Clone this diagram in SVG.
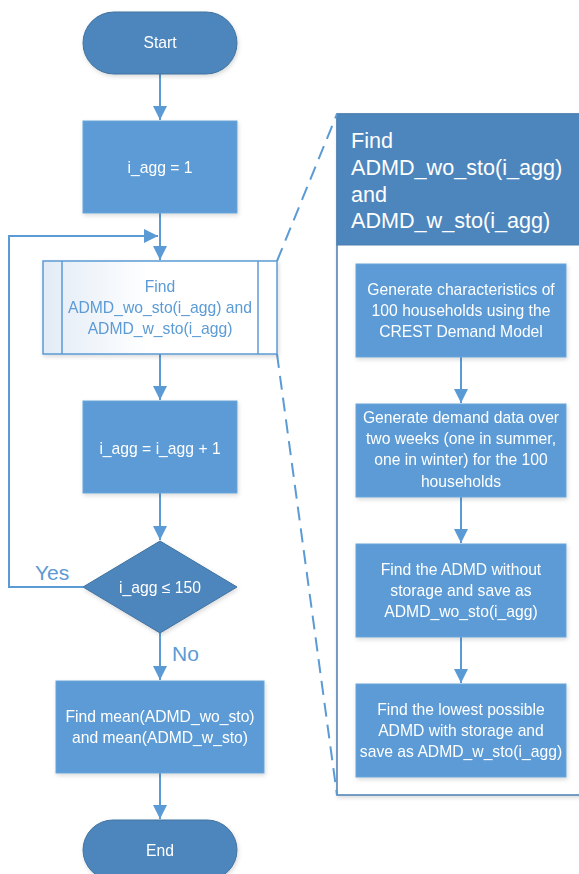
<svg xmlns="http://www.w3.org/2000/svg" width="579" height="874" viewBox="0 0 579 874">
<defs>
<style>
.t{font-family:"Liberation Sans",Arial,sans-serif;font-size:15.7px;fill:#ffffff;text-anchor:middle}
.tb{font-family:"Liberation Sans",Arial,sans-serif;font-size:15.7px;fill:#5b9bd5;text-anchor:middle}
.lbl{font-family:"Liberation Sans",Arial,sans-serif;font-size:21px;fill:#5b9bd5}
.hd{font-family:"Liberation Sans",Arial,sans-serif;font-size:21.6px;fill:#ffffff}
.box{fill:#5b9bd5;stroke:#6aa5da;stroke-width:1}
.dark{fill:#4d86bd;stroke:#41729f;stroke-width:1}
.con{fill:none;stroke:#5b9bd5;stroke-width:2}
.dash{fill:none;stroke:#5b9bd5;stroke-width:2;stroke-dasharray:14 8}
</style>
<marker id="ah" viewBox="0 0 14 14" refX="14" refY="7" markerWidth="14" markerHeight="14" markerUnits="userSpaceOnUse" orient="auto">
<path d="M0,0 L14,7 L0,14 Z" fill="#5b9bd5"/>
</marker>
<linearGradient id="sg" x1="0" y1="0" x2="1" y2="0">
<stop offset="0" stop-color="#e2ebf6"/>
<stop offset="0.45" stop-color="#ffffff"/>
<stop offset="1" stop-color="#ffffff"/>
</linearGradient>
<filter id="sh" x="-10%" y="-10%" width="130%" height="130%">
<feDropShadow dx="1" dy="2" stdDeviation="2" flood-color="#000" flood-opacity="0.15"/>
</filter>
</defs>
<rect width="579" height="874" fill="#ffffff"/>

<g id="detail-panel">
<rect x="337" y="114" width="262" height="681" fill="#ffffff" stroke="#4a7eb0" stroke-width="1.5" filter="url(#sh)"/>
<rect x="337" y="114" width="262" height="131" fill="#4d86bd" stroke="#4a7eb0" stroke-width="1"/>
<text class="hd" x="351" y="148">Find</text>
<text class="hd" x="351" y="175">ADMD_wo_sto(i_agg)</text>
<text class="hd" x="351" y="202">and</text>
<text class="hd" x="351" y="228">ADMD_w_sto(i_agg)</text>
</g>

<g id="connectors">
<line class="con" x1="160" y1="74" x2="160" y2="120" marker-end="url(#ah)"/>
<line class="con" x1="160" y1="213" x2="160" y2="260" marker-end="url(#ah)"/>
<polyline class="con" points="83,587 9,587 9,236 158,236" marker-end="url(#ah)"/>
<line class="con" x1="160" y1="354" x2="160" y2="400" marker-end="url(#ah)"/>
<line class="con" x1="160" y1="493" x2="160" y2="540" marker-end="url(#ah)"/>
<line class="con" x1="160" y1="633" x2="160" y2="680" marker-end="url(#ah)"/>
<line class="con" x1="160" y1="773" x2="160" y2="819" marker-end="url(#ah)"/>
<line class="dash" x1="277" y1="261" x2="337" y2="114"/>
<line class="dash" x1="277" y1="354" x2="337" y2="795"/>
<line class="con" x1="461" y1="357" x2="461" y2="403" marker-end="url(#ah)"/>
<line class="con" x1="461" y1="497" x2="461" y2="543" marker-end="url(#ah)"/>
<line class="con" x1="461" y1="637" x2="461" y2="683" marker-end="url(#ah)"/>
<text class="lbl" x="35" y="580">Yes</text>
<text class="lbl" x="172" y="661">No</text>
</g>

<g id="start" filter="url(#sh)">
<rect class="dark" x="83" y="12" width="154" height="62" rx="31" ry="31"/>
<text class="t" x="160" y="48">Start</text>
</g>

<g id="init" filter="url(#sh)">
<rect class="box" x="83" y="121" width="154" height="92"/>
<text class="t" x="160" y="173">i_agg = 1</text>
</g>

<g id="subprocess" filter="url(#sh)">
<rect x="43" y="261" width="234" height="93" fill="url(#sg)" stroke="#5b9bd5" stroke-width="1.5"/>
<line x1="62" y1="261" x2="62" y2="354" stroke="#5b9bd5" stroke-width="1.5"/>
<line x1="258" y1="261" x2="258" y2="354" stroke="#5b9bd5" stroke-width="1.5"/>
<text class="tb" x="160" y="292">Find</text>
<text class="tb" x="160" y="313">ADMD_wo_sto(i_agg) and</text>
<text class="tb" x="160" y="334">ADMD_w_sto(i_agg)</text>
</g>

<g id="increment" filter="url(#sh)">
<rect class="box" x="83" y="401" width="154" height="92"/>
<text class="t" x="160" y="454">i_agg = i_agg + 1</text>
</g>

<g id="decision" filter="url(#sh)">
<polygon class="dark" points="160,541 237,587 160,633 83,587"/>
<text class="t" x="160" y="593">i_agg ≤ 150</text>
</g>

<g id="mean" filter="url(#sh)">
<rect class="box" x="56" y="681" width="208" height="92"/>
<text class="t" x="160" y="722">Find mean(ADMD_wo_sto)</text>
<text class="t" x="160" y="743">and mean(ADMD_w_sto)</text>
</g>

<g id="end" filter="url(#sh)">
<rect class="dark" x="83" y="820" width="154" height="60" rx="30" ry="30"/>
<text class="t" x="160" y="856">End</text>
</g>

<g id="step1" filter="url(#sh)">
<rect class="box" x="356" y="264" width="210" height="93"/>
<text class="t" x="461" y="295">Generate characteristics of</text>
<text class="t" x="461" y="316">100 households using the</text>
<text class="t" x="461" y="337">CREST Demand Model</text>
</g>

<g id="step2" filter="url(#sh)">
<rect class="box" x="356" y="404" width="210" height="93"/>
<text class="t" x="461" y="423">Generate demand data over</text>
<text class="t" x="461" y="444">two weeks (one in summer,</text>
<text class="t" x="461" y="465">one in winter) for the 100</text>
<text class="t" x="461" y="487">households</text>
</g>

<g id="step3" filter="url(#sh)">
<rect class="box" x="356" y="544" width="210" height="93"/>
<text class="t" x="461" y="575">Find the ADMD without</text>
<text class="t" x="461" y="596">storage and save as</text>
<text class="t" x="461" y="617">ADMD_wo_sto(i_agg)</text>
</g>

<g id="step4" filter="url(#sh)">
<rect class="box" x="356" y="684" width="210" height="93"/>
<text class="t" x="461" y="715">Find the lowest possible</text>
<text class="t" x="461" y="736">ADMD with storage and</text>
<text class="t" x="461" y="757">save as ADMD_w_sto(i_agg)</text>
</g>
</svg>
